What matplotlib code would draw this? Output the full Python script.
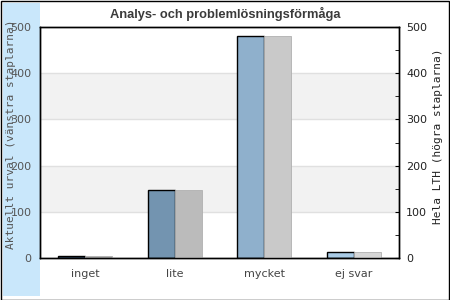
import matplotlib
matplotlib.use("Agg")
import matplotlib.pyplot as plt
from matplotlib.patches import Rectangle
import numpy as np

categories = ["inget", "lite", "mycket", "ej svar"]
aktuellt = [4, 147, 480, 12]
hela_lth = [4, 147, 480, 12]
left_colors = ["#3b5f80", "#7394b0", "#8fb0cc", "#a9cbe6"]
right_colors = ["#9a9a9a", "#bbbbbb", "#c9c9c9", "#d6d6d6"]
yticks = [0, 100, 200, 300, 400, 500]

W, H = 450, 300
fig = plt.figure(figsize=(4.5, 3), dpi=100)

# background decoration: outer frame and light blue strip
fig.patches.append(Rectangle((0.5 / W, 0.5 / H), 448.5 / W, 298.5 / H, transform=fig.transFigure,
                             fill=False, edgecolor="black", lw=1.0, zorder=-2))
fig.patches.append(Rectangle((3 / W, 4 / H), 37 / W, 293 / H, transform=fig.transFigure,
                             facecolor="#c9e7fb", edgecolor="none", zorder=-1))

ax = fig.add_axes([40 / W, 42 / H, 359 / W, 231 / H])
ax.set_facecolor("none")
ax2 = ax.twinx()

x = np.arange(len(categories))
w = 0.3
ax.set_xlim(-0.5, len(categories) - 0.5)
ax.set_ylim(0, 500)
ax2.set_ylim(0, 500)

# alternating bands + grid lines
for lo in (100, 300):
    ax.axhspan(lo, lo + 100, color="#f2f2f2", zorder=0, lw=0)
for v in (100, 200, 300, 400):
    ax.axhline(v, color="#e0e0e0", lw=1, zorder=0.5)

ax.bar(x - w / 2, aktuellt, width=w, color=left_colors, edgecolor="black", lw=1.0, zorder=2)
ax2.bar(x + w / 2, hela_lth, width=w, color=right_colors, edgecolor="#b0b0b0", lw=0.6, zorder=2)

ax.set_xticks(x)
ax.set_xticklabels(categories, fontsize=8, color="#444444")
ax.tick_params(axis="x", length=0, pad=8)
ax.set_yticks(yticks)
ax.tick_params(axis="y", length=0, pad=6, labelsize=8, labelcolor="#555555")
ax2.set_yticks(yticks)
ax2.set_yticks(np.arange(50, 500, 100), minor=True)
ax2.tick_params(axis="y", which="both", direction="in", length=3, pad=5, labelsize=8, labelcolor="#222222")

for s in ax.spines.values():
    s.set_linewidth(1.0)
for s in ax2.spines.values():
    s.set_linewidth(1.0)

ax.set_ylabel("Aktuellt urval (vänstra staplarna)", fontsize=8, family="DejaVu Sans Mono", color="#555555")
ax.yaxis.set_label_coords(-0.068, 0.535)
ax2.set_ylabel("Hela LTH (högra staplarna)", fontsize=8, family="DejaVu Sans Mono", color="#222222")
ax2.yaxis.set_label_coords(1.095, 0.525)

fig.text(225 / W, 1 - 14 / H, "Analys- och problemlösningsförmåga", ha="center", va="center",
         fontsize=9.3, fontweight="bold", family="Liberation Sans", color="#3a3a3a")

fig.savefig("out.png", dpi=100)
